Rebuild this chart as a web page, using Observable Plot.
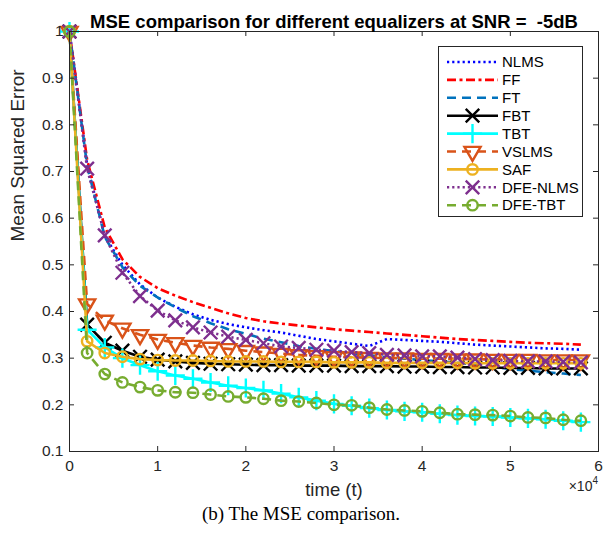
<!DOCTYPE html>
<html>
<head>
<meta charset="utf-8">
<script src="https://cdn.jsdelivr.net/npm/d3@7"></script>
<script src="https://cdn.jsdelivr.net/npm/@observablehq/plot@0.6"></script>
<style>
  html, body { margin: 0; padding: 0; background: #fff; }
  #wrap { position: relative; width: 603px; height: 543px; }
  #legend { position: absolute; left: 438px; top: 46px; }
</style>
</head>
<body>
<div id="wrap"></div>
<script>
// time axis (samples) where every series is recorded
const t = [0, 2000, 4000, 6000, 8000, 10000, 12000, 14000, 16000, 18000, 20000, 22000, 24000, 26000, 28000,
           30000, 32000, 34000, 36000, 38000, 40000, 42000, 44000, 46000, 48000, 50000, 52000, 54000, 56000, 58000];

const NLMS    = [1, 0.715, 0.562, 0.500, 0.458, 0.430, 0.410, 0.394, 0.382, 0.373, 0.366, 0.360, 0.355, 0.348, 0.341,
                 0.336, 0.331, 0.326, 0.341, 0.339, 0.337, 0.335, 0.332, 0.329, 0.327, 0.325, 0.323, 0.321, 0.320, 0.318];
const FF      = [1, 0.725, 0.580, 0.512, 0.474, 0.450, 0.434, 0.420, 0.408, 0.396, 0.386, 0.379, 0.374, 0.370, 0.366,
                 0.362, 0.359, 0.356, 0.353, 0.350, 0.347, 0.344, 0.341, 0.339, 0.337, 0.335, 0.333, 0.332, 0.331, 0.329];
const FT      = [1, 0.712, 0.560, 0.495, 0.455, 0.430, 0.409, 0.390, 0.375, 0.362, 0.352, 0.342, 0.334, 0.326, 0.320,
                 0.315, 0.310, 0.306, 0.302, 0.299, 0.296, 0.293, 0.290, 0.286, 0.281, 0.277, 0.273, 0.270, 0.267, 0.264];
const FBT     = [1, 0.372, 0.333, 0.316, 0.303, 0.297, 0.293, 0.290, 0.288, 0.287, 0.286, 0.285, 0.285, 0.284, 0.284,
                 0.284, 0.283, 0.283, 0.283, 0.282, 0.282, 0.281, 0.281, 0.280, 0.280, 0.279, 0.279, 0.278, 0.278, 0.278];
const TBT     = [1, 0.361, 0.323, 0.300, 0.285, 0.272, 0.263, 0.256, 0.248, 0.241, 0.236, 0.231, 0.224, 0.216, 0.209,
                 0.202, 0.198, 0.193, 0.189, 0.186, 0.184, 0.181, 0.178, 0.176, 0.175, 0.173, 0.171, 0.169, 0.166, 0.163];
const VSLMS   = [1, 0.416, 0.381, 0.364, 0.350, 0.340, 0.333, 0.327, 0.323, 0.320, 0.316, 0.313, 0.310, 0.307, 0.305,
                 0.303, 0.302, 0.301, 0.300, 0.300, 0.299, 0.299, 0.298, 0.298, 0.297, 0.297, 0.297, 0.296, 0.296, 0.296];
const SAF     = [1, 0.336, 0.311, 0.303, 0.298, 0.296, 0.295, 0.295, 0.294, 0.293, 0.293, 0.293, 0.292, 0.292, 0.292,
                 0.291, 0.291, 0.291, 0.290, 0.290, 0.290, 0.290, 0.290, 0.289, 0.289, 0.289, 0.289, 0.289, 0.289, 0.289];
const DFENLMS = [1, 0.706, 0.563, 0.483, 0.433, 0.402, 0.381, 0.366, 0.355, 0.346, 0.339, 0.332, 0.325, 0.322, 0.318,
                 0.316, 0.313, 0.311, 0.307, 0.306, 0.304, 0.304, 0.301, 0.298, 0.296, 0.294, 0.293, 0.293, 0.292, 0.291];
const DFETBT  = [1, 0.311, 0.266, 0.248, 0.238, 0.231, 0.227, 0.226, 0.222, 0.218, 0.216, 0.213, 0.209, 0.207, 0.204,
                 0.200, 0.199, 0.194, 0.190, 0.188, 0.186, 0.183, 0.180, 0.179, 0.178, 0.176, 0.173, 0.172, 0.168, 0.166];

const names = ["NLMS", "FF", "FT", "FBT", "TBT", "VSLMS", "SAF", "DFE-NLMS", "DFE-TBT"];
const values = [NLMS, FF, FT, FBT, TBT, VSLMS, SAF, DFENLMS, DFETBT];

const xTicks = [0, 10000, 20000, 30000, 40000, 50000, 60000];
const yTicks = [0.1, 0.2, 0.3, 0.4, 0.5, 0.6, 0.7, 0.8, 0.9, 1];

const titleText = "MSE comparison for different equalizers at SNR =  -5dB";
const xLabel = "time (t)";
const yLabel = "Mean Squared Error";
const caption = "(b) The MSE comparison.";

// styles
const styles = {
  "NLMS":     {color: "#0000FF", dash: "2.2,3",      symbol: null},
  "FF":       {color: "#FF0000", dash: "9,3.5,3,3.5", symbol: null},
  "FT":       {color: "#0072BD", dash: "9,6",        symbol: null},
  "FBT":      {color: "#000000", dash: null,         symbol: "times"},
  "TBT":      {color: "#00FFFF", dash: null,         symbol: "plus"},
  "VSLMS":    {color: "#D95319", dash: "9,6",        symbol: "triangle", rotate: 180},
  "SAF":      {color: "#EDB120", dash: null,         symbol: "circle"},
  "DFE-NLMS": {color: "#7E2F8E", dash: "2.2,3",      symbol: "times"},
  "DFE-TBT":  {color: "#77AC30", dash: "9,6",        symbol: "circle"}
};

const rows = names.map((n, i) => t.map((x, j) => ({t: x, v: values[i][j], name: n})));

const LW = 2.6;
const symR = s => s === "circle" ? 5.2 : s === "triangle" ? 6 : 6.2;
const marks = [];
names.forEach((n, i) => {
  const s = styles[n];
  marks.push(Plot.line(rows[i], {x: "t", y: "v", stroke: s.color, strokeWidth: LW,
    strokeDasharray: s.dash || undefined, strokeLinecap: "butt", strokeLinejoin: "round"}));
  if (s.symbol) {
    marks.push(Plot.dot(rows[i], {x: "t", y: "v", symbol: s.symbol, r: symR(s.symbol), stroke: s.color, fill: "none",
      strokeWidth: 2.4, rotate: s.rotate || 0}));
  }
});

const W = 603, H = 543, mL = 69, mR = 5, mT = 31, mB = 92;
const fw = W - mL - mR, fh = H - mT - mB;
const sans = "'Liberation Sans', Arial, Helvetica, sans-serif";

const chart = Plot.plot({
  width: W, height: H,
  marginLeft: mL, marginRight: mR, marginTop: mT, marginBottom: mB,
  style: {fontFamily: sans, fontSize: "15.5px", color: "#262626", background: "#fff"},
  x: {domain: [0, 60000], axis: null},
  y: {domain: [0.1, 1], axis: null},
  marks: [
    ...marks,
    Plot.frame({stroke: "#262626", strokeWidth: 1}),
    Plot.ruleX(xTicks, {x: d => d, insetTop: fh - 5, stroke: "#262626"}),
    Plot.ruleX(xTicks, {x: d => d, insetBottom: fh - 5, stroke: "#262626"}),
    Plot.ruleY(yTicks, {y: d => d, insetRight: fw - 5, stroke: "#262626"}),
    Plot.ruleY(yTicks, {y: d => d, insetLeft: fw - 5, stroke: "#262626"}),
    Plot.axisX(xTicks, {anchor: "bottom", tickSize: 0, tickPadding: 8, tickFormat: d => String(d / 10000), label: null, fontSize: 15.5}),
    Plot.axisY(yTicks, {anchor: "left", tickSize: 0, tickPadding: 6, tickFormat: d => d3.format("~g")(d), label: null, fontSize: 15.5}),
    Plot.text([titleText], {frameAnchor: "top", dy: -17, fontWeight: "bold", fontSize: 18.5, fill: "#000"}),
    Plot.text([xLabel], {frameAnchor: "bottom", dy: 44, fontSize: 18.5, fill: "#262626"}),
    Plot.text([yLabel], {frameAnchor: "left", dx: -52, rotate: -90, fontSize: 19, fill: "#262626"}),
    Plot.text([caption], {frameAnchor: "bottom", dx: -33, dy: 68, fontSize: 19, fill: "#000",
      fontFamily: "'Liberation Serif', 'DejaVu Serif', serif"})
  ]
});

document.getElementById("wrap").appendChild(chart);

// ×10^4 exponent label at the right end of the x axis, below the tick labels
const sx = chart.scale("x"), sy = chart.scale("y");
const svg = d3.select(chart);
const ex = svg.append("text")
  .attr("x", sx.apply(60000))
  .attr("y", sy.apply(0.1) + 40)
  .attr("text-anchor", "end")
  .attr("fill", "#262626")
  .attr("font-size", 14)
  .attr("font-family", sans);
ex.append("tspan").text("\u00D710");
ex.append("tspan").attr("dy", -7).attr("font-size", 10).text("4");

// legend
const entryH = 17.9, LWd = 145, LHt = 171;
const leg = d3.select("#wrap").append("svg")
  .attr("id", "legend").attr("width", LWd).attr("height", LHt);
leg.append("rect").attr("x", 0.5).attr("y", 0.5).attr("width", LWd - 1).attr("height", LHt - 1)
  .attr("fill", "#fff").attr("stroke", "#262626").attr("stroke-width", 1);
names.forEach((n, i) => {
  const s = styles[n];
  const y = 16 + i * entryH;
  leg.append("line").attr("x1", 9).attr("x2", 60).attr("y1", y).attr("y2", y)
    .attr("stroke", s.color).attr("stroke-width", LW)
    .attr("stroke-dasharray", s.dash || null);
  if (s.symbol) {
    const sym = {times: d3.symbolTimes, plus: d3.symbolPlus, triangle: d3.symbolTriangle, circle: d3.symbolCircle}[s.symbol];
    const r = symR(s.symbol);
    leg.append("path").attr("d", d3.symbol(sym, Math.PI * r * r)())
      .attr("transform", `translate(34.5,${y}) rotate(${s.rotate || 0})`)
      .attr("fill", "none").attr("stroke", s.color).attr("stroke-width", 2.4);
  }
  leg.append("text").attr("x", 64).attr("y", y).attr("dy", "0.35em")
    .attr("font-size", 15).attr("fill", "#000")
    .attr("font-family", sans).text(n);
});
</script>
</body>
</html>
